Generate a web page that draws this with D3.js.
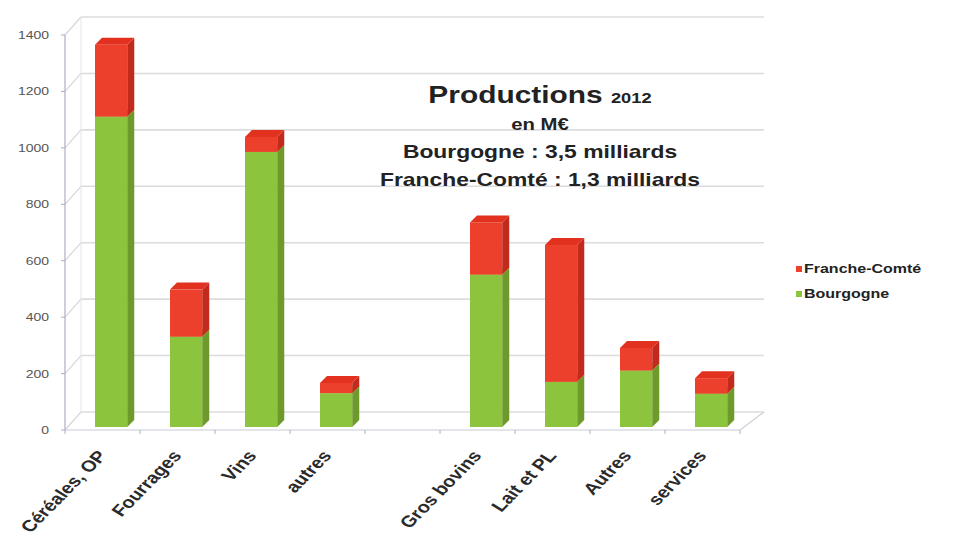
<!DOCTYPE html>
<html>
<head>
<meta charset="utf-8">
<script src="https://cdn.jsdelivr.net/npm/d3@7"></script>
<style>
  html, body { margin: 0; padding: 0; background: #fff; }
  svg { display: block; }
  text { font-family: "Liberation Sans", Arial, sans-serif; }
</style>
</head>
<body>
<svg id="chart" width="962" height="543"></svg>
<script>
// ---- data ----
const categories = ["Céréales, OP", "Fourrages", "Vins", "autres", "", "Gros bovins", "Lait et PL", "Autres", "services"];
const bourgogne = [1100, 320, 975, 120, 0, 540, 160, 200, 118];
const francheComte = [255, 167, 53, 36, 0, 185, 485, 80, 55];
const yTicks = [0, 200, 400, 600, 800, 1000, 1200, 1400];
const seriesNames = ["Franche-Comté", "Bourgogne"];
const titleLines = ["en M€", "Bourgogne : 3,5 milliards", "Franche-Comté : 1,3 milliards"];

// ---- layout ----
const svg = d3.select("#chart");
const x0 = 65, x1 = 740, yBase = 430, yTop = 35;
const backDyL = -18, backDxL = 16, backDxR = 24;
const sx = 1.27; // horizontal stretch of the original picture

const x = d3.scaleBand().domain(d3.range(categories.length)).range([x0, x1]).paddingInner(0).paddingOuter(0);
const y = d3.scaleLinear().domain([0, 1400]).range([yBase, yTop]);

const colors = {
  Bourgogne: { front: "#8cc43e", side: "#6d9a2a", top: "#a0cf55" },
  "Franche-Comté": { front: "#ec3f2c", side: "#c12a1c", top: "#e2321f" }
};

// back wall gridlines
const g = svg.append("g");
g.selectAll("line.grid").data(yTicks).enter().append("line")
  .attr("x1", x0 + backDxL).attr("x2", x1 + backDxR)
  .attr("y1", d => y(d) + backDyL).attr("y2", d => y(d) + backDyL)
  .attr("stroke", "#dcdcdc").attr("stroke-width", 1.6);
// left wall lines
g.selectAll("line.wall").data(yTicks).enter().append("line")
  .attr("x1", x0).attr("x2", x0 + backDxL)
  .attr("y1", d => y(d)).attr("y2", d => y(d) + backDyL)
  .attr("stroke", "#d6d6dc").attr("stroke-width", 1.2);
g.append("line").attr("x1", x0 + backDxL).attr("x2", x0 + backDxL)
  .attr("y1", y(1400) + backDyL).attr("y2", y(0) + backDyL)
  .attr("stroke", "#e4e4e4").attr("stroke-width", 1);
// floor right edge
g.append("line").attr("x1", x1).attr("y1", yBase).attr("x2", x1 + backDxR).attr("y2", yBase + backDyL)
  .attr("stroke", "#cfcfd6").attr("stroke-width", 1.2);

// y axis
g.append("line").attr("x1", x0).attr("x2", x0).attr("y1", y(1400)).attr("y2", yBase)
  .attr("stroke", "#aab0c4").attr("stroke-width", 1.2);
g.selectAll("line.ytick").data(yTicks).enter().append("line")
  .attr("x1", x0 - 4).attr("x2", x0).attr("y1", d => y(d)).attr("y2", d => y(d))
  .attr("stroke", "#aab0c4");
g.selectAll("text.ylab").data(yTicks).enter().append("text")
  .attr("transform", d => `translate(49,${y(d) + 4}) scale(${sx},1)`)
  .attr("text-anchor", "end").attr("font-size", 11).attr("fill", "#555")
  .text(d => d);

// x axis
g.append("line").attr("x1", x0).attr("x2", x1).attr("y1", yBase).attr("y2", yBase)
  .attr("stroke", "#c8ccd8").attr("stroke-width", 1.2);
g.selectAll("line.xtick").data(d3.range(categories.length + 1)).enter().append("line")
  .attr("x1", i => x0 + i * x.bandwidth()).attr("x2", i => x0 + i * x.bandwidth())
  .attr("y1", yBase).attr("y2", yBase + 4)
  .attr("stroke", "#aab0c4");

// bars
const bw = x.bandwidth() * 0.43, bOff = x.bandwidth() * 0.4;
const dX = 7, dY = -7, barShift = -3;
const stackData = categories.map((c, i) => ({ i, Bourgogne: bourgogne[i], "Franche-Comté": francheComte[i] }));
const stack = d3.stack().keys(["Bourgogne", "Franche-Comté"])(stackData);
const barsG = svg.append("g");
stack.forEach(layer => {
  const col = colors[layer.key];
  layer.forEach((seg, i) => {
    if (seg[1] - seg[0] <= 0) return;
    const xl = x(i) + bOff, xr = xl + bw;
    const yb = y(seg[0]) + barShift, yt = y(seg[1]) + barShift;
    barsG.append("rect").attr("x", xl).attr("y", yt).attr("width", bw).attr("height", yb - yt)
      .attr("fill", col.front);
    barsG.append("path")
      .attr("d", `M${xr},${yt}L${xr + dX},${yt + dY}L${xr + dX},${yb + dY}L${xr},${yb}Z`)
      .attr("fill", col.side);
    barsG.append("path")
      .attr("d", `M${xl},${yt}L${xl + dX},${yt + dY}L${xr + dX},${yt + dY}L${xr},${yt}Z`)
      .attr("fill", col.top);
  });
});

// x labels
g.selectAll("text.xlab").data(categories).enter().append("text")
  .attr("transform", (d, i) => `translate(${x(i) + x.bandwidth() / 2 + 5},${yBase + 26}) scale(${sx},1) rotate(-52)`)
  .attr("text-anchor", "end").attr("font-size", 16).attr("font-weight", "bold").attr("fill", "#2a2a2a")
  .text(d => d);

// title
const t = svg.append("text").attr("transform", `translate(540,103) scale(1.22,1)`).attr("text-anchor", "middle")
  .attr("font-weight", "bold").attr("fill", "#222");
t.append("tspan").attr("font-size", 24.5).text("Productions ");
t.append("tspan").attr("font-size", 15).text("2012");
svg.selectAll("text.sub").data(titleLines).enter().append("text")
  .attr("transform", (d, i) => `translate(540,${130 + i * 28}) scale(${sx},1)`)
  .attr("text-anchor", "middle").attr("font-weight", "bold").attr("fill", "#222")
  .attr("font-size", (d, i) => i === 0 ? 16 : 18)
  .text(d => d);

// legend
const lg = svg.append("g").attr("transform", "translate(796,266)");
seriesNames.forEach((s, i) => {
  lg.append("rect").attr("x", 0).attr("y", i * 25).attr("width", 6).attr("height", 6)
    .attr("fill", colors[s].front);
  lg.append("text").attr("transform", `translate(8,${i * 25 + 7}) scale(1.23,1)`)
    .attr("font-size", 13).attr("font-weight", "bold")
    .attr("fill", "#222").text(s);
});
</script>
</body>
</html>
